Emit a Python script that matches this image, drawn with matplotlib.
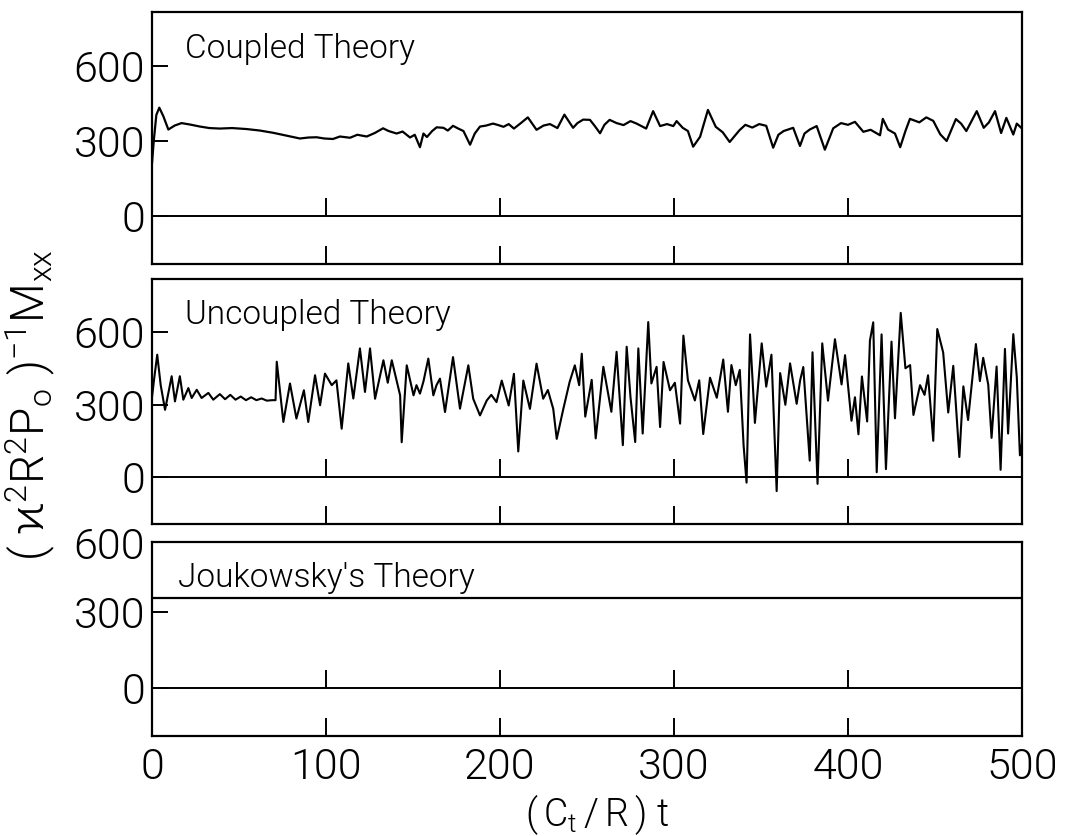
import matplotlib
matplotlib.use("Agg")
import matplotlib.pyplot as plt
from matplotlib.lines import TICKUP

plt.rcParams['font.family'] = ['Roboto', 'DejaVu Sans']
plt.rcParams['font.weight'] = 300
plt.rcParams['text.color'] = 'black'
plt.rcParams['mathtext.fontset'] = 'dejavusans'
plt.rcParams['mathtext.default'] = 'regular'

# ---- data -------------------------------------------------------------
time_ticks = [100, 200, 300, 400]
x_tick_values = [0, 100, 200, 300, 400, 500]
x_tick_labels = ['0', '100', '200', '300', '400', '500']

panel_titles = ["Coupled Theory", "Uncoupled Theory", "Joukowsky's Theory"]

coupled_t = [0, 1, 2.5, 4.2, 6.5, 9.4, 13, 17, 22, 27.6, 33, 39, 46, 54.4, 62,
             69.6, 77, 85, 90, 94.6, 99, 104, 108, 113.8, 118, 123.4, 128,
             132.8, 136, 140.6, 144, 148.3, 151, 154, 156, 158, 161, 163.6,
             167.5, 170, 173, 176, 179, 182.8, 185.5, 188.5, 192, 196, 199,
             202, 205, 208, 212, 216, 221, 225, 228.7, 233, 237, 242, 244.5,
             247.8, 251.7, 254.5, 257.5, 260, 263, 267, 271, 275, 278.5, 284,
             288, 292, 296, 299.6, 301.5, 305, 308, 311, 315, 319.5, 324, 328,
             332, 337.6, 341, 345, 349, 353, 357, 360, 363, 368.5, 372.4, 375,
             378, 382, 386.7, 391.5, 396, 400, 404, 408.8, 413, 418.4, 420,
             423, 427, 430, 433, 435.6, 441, 445, 449, 453, 456.7, 462, 465,
             468, 471, 474, 478, 481, 484.5, 488, 491, 495, 497, 500]
coupled_m = [210, 300, 405, 434, 400, 346, 362, 372, 366, 358, 352, 350, 352,
             348, 342, 333, 322, 310, 314, 315, 310, 308, 318, 313, 325, 318,
             332, 351, 340, 330, 338, 314, 325, 275, 330, 316, 340, 355, 353,
             342, 361, 350, 340, 285, 330, 358, 362, 370, 364, 357, 368, 350,
             372, 395, 345, 362, 368, 352, 406, 353, 372, 386, 385, 360, 331,
             365, 385, 372, 364, 380, 370, 350, 420, 360, 368, 360, 380, 353,
             340, 277, 317, 425, 357, 335, 296, 343, 365, 354, 368, 361, 273,
             325, 340, 353, 280, 330, 346, 360, 265, 351, 372, 365, 377, 337,
             345, 323, 389, 346, 330, 275, 340, 389, 375, 395, 381, 327, 300,
             388, 370, 340, 380, 420, 353, 375, 420, 332, 393, 326, 370, 350]

uncoupled_t = [0, 1.3, 3, 5, 7.5, 9.5, 11.3, 13.2, 16, 18, 20.9, 22.8, 25.7,
               28.5, 32.4, 35.2, 39, 42, 45, 48, 51, 54, 57, 60, 63, 66, 69,
               71, 71.7, 75.5, 79.3, 83, 87.3, 89.8, 93.7, 96.6, 99.4, 103.3,
               106, 109, 112.8, 115.7, 119.5, 122.4, 125.3, 128.2, 133, 135.5,
               137.8, 142.6, 143.5, 146.4, 150.3, 152, 154, 156, 158.8, 161.7,
               163.5, 165.5, 168.4, 173, 177, 181.8, 184.6, 188.5, 192.4, 195,
               198, 201, 205, 208, 210.5, 213.4, 217.2, 221, 224.8, 227.5,
               230.6, 232.6, 236.4, 240, 243, 245.5, 247, 249, 252.7, 255,
               259.4, 264, 267, 270.6, 272.8, 275, 277.7, 279.5, 282, 285.2,
               287, 290, 292, 294, 297.7, 300.5, 303.5, 305.4, 308, 312, 314.5,
               316.8, 320.7, 324.6, 328.3, 331, 333, 335.5, 337.8, 340, 341.7,
               343.7, 346.5, 350.4, 353, 356, 359, 361, 364, 366.7, 370.5,
               372.5, 374.3, 378, 379.6, 382.5, 385.2, 388.5, 392.5, 396.3,
               398.3, 402, 404, 406, 408, 411, 412.6, 414.5, 416.5, 419.3,
               421.8, 425, 427, 430.3, 433, 435.7, 437.6, 441.4, 444, 446, 449,
               451.3, 454.7, 457.6, 460.5, 464, 466.3, 469, 473.5, 475.8, 477.7,
               480.6, 482.5, 485.4, 487.7, 490.2, 492, 495, 497, 498.8, 500]
uncoupled_m = [330, 410, 506, 380, 278, 350, 417, 313, 417, 320, 368, 327, 361,
               327, 348, 320, 343, 322, 340, 320, 333, 318, 330, 318, 325, 316,
               318, 318, 477, 228, 387, 242, 359, 228, 421, 297, 428, 380, 400,
               200, 470, 325, 532, 352, 532, 324, 483, 390, 483, 338, 144, 462,
               338, 380, 345, 395, 490, 338, 380, 407, 269, 496, 283, 462, 324,
               255, 317, 340, 310, 399, 296, 427, 106, 399, 282, 469, 324, 360,
               282, 158, 282, 393, 462, 380, 510, 250, 402, 160, 456, 270, 518,
               132, 539, 330, 145, 532, 180, 641, 387, 456, 207, 476, 359, 390,
               221, 585, 400, 317, 400, 178, 411, 328, 486, 270, 463, 380, 443,
               131, -23, 590, 224, 553, 374, 506, -58, 430, 299, 470, 303, 400,
               455, 68, 516, -28, 553, 316, 570, 383, 504, 233, 330, 177, 416,
               230, 564, 640, 20, 590, 33, 560, 243, 679, 450, 463, 257, 380,
               340, 421, 150, 612, 515, 267, 460, 83, 375, 236, 550, 397, 493,
               382, 162, 457, 30, 530, 180, 591, 414, 90, 140]

joukowsky_t = [0, 500]
joukowsky_m = [355, 355]

# ---- figure -----------------------------------------------------------
W, H = 1070, 836
fig = plt.figure(figsize=(W / 100, H / 100), dpi=100)


def add_panel(top, bottom, left=152, right=1022):
    return fig.add_axes([left / W, 1 - bottom / H, (right - left) / W,
                         (bottom - top) / H])


ax1 = add_panel(12, 264)
ax2 = add_panel(279, 524)
ax3 = add_panel(542, 735.5)

LABEL_SIZE = 31


def style_panel(ax, ylim, yticks, bottom_labels):
    ax.set_xlim(0, 500)
    ax.set_ylim(*ylim)
    for s in ax.spines.values():
        s.set_linewidth(1.6)
    ax.axhline(0, color='black', lw=1.4, zorder=2)
    ax.plot(time_ticks, [0] * len(time_ticks), ls='none', marker=TICKUP,
            ms=13, mew=1.4, color='black', zorder=2)
    ax.set_yticks(yticks)
    ax.set_yticklabels([str(v) for v in yticks])
    ax.tick_params(axis='y', direction='in', length=11.5, width=1.4,
                   labelsize=LABEL_SIZE, pad=5, labelcolor='black')
    ax.tick_params(axis='x', direction='in', length=13, width=1.4,
                   labelsize=LABEL_SIZE, pad=8, labelcolor='black')
    if bottom_labels:
        ax.set_xticks(x_tick_values)
        ax.set_xticklabels(x_tick_labels)
    else:
        ax.set_xticks(time_ticks)
        ax.set_xticklabels([])


style_panel(ax1, (-195, 819), [0, 300, 600], False)
style_panel(ax2, (-194, 819), [0, 300, 600], False)
style_panel(ax3, (-186, 578), [0, 300], True)

# 600 label of the lowest panel sits at its top edge
ax3.text(-0.008, 555, '600', transform=ax3.get_yaxis_transform(),
         ha='right', va='center', fontsize=LABEL_SIZE, color='black')

ax1.plot(coupled_t, coupled_m, color='black', lw=1.6)
ax2.plot(uncoupled_t, uncoupled_m, color='black', lw=1.5)
ax3.plot(joukowsky_t, joukowsky_m, color='black', lw=1.6)

ax1.text(0.038, 0.915, panel_titles[0], transform=ax1.transAxes,
         fontsize=24, va='top', ha='left', color='black')
ax2.text(0.038, 0.92, panel_titles[1], transform=ax2.transAxes,
         fontsize=24, va='top', ha='left', color='black')
ax3.text(0.030, 0.895, panel_titles[2], transform=ax3.transAxes,
         fontsize=24, va='top', ha='left', color='black')

fig.text(30 / W, 1 - 405 / H, r'$(\;\varkappa^2R^2P_o\;)^{-1}M_{xx}$',
         rotation=90, ha='center', va='center', fontsize=33, color='black')
fig.text(597 / W, 1 - 815 / H, r'$(\,C_t\,/\,R\,)\;t$',
         ha='center', va='center', fontsize=27, color='black')

fig.savefig('out.png', dpi=100)
